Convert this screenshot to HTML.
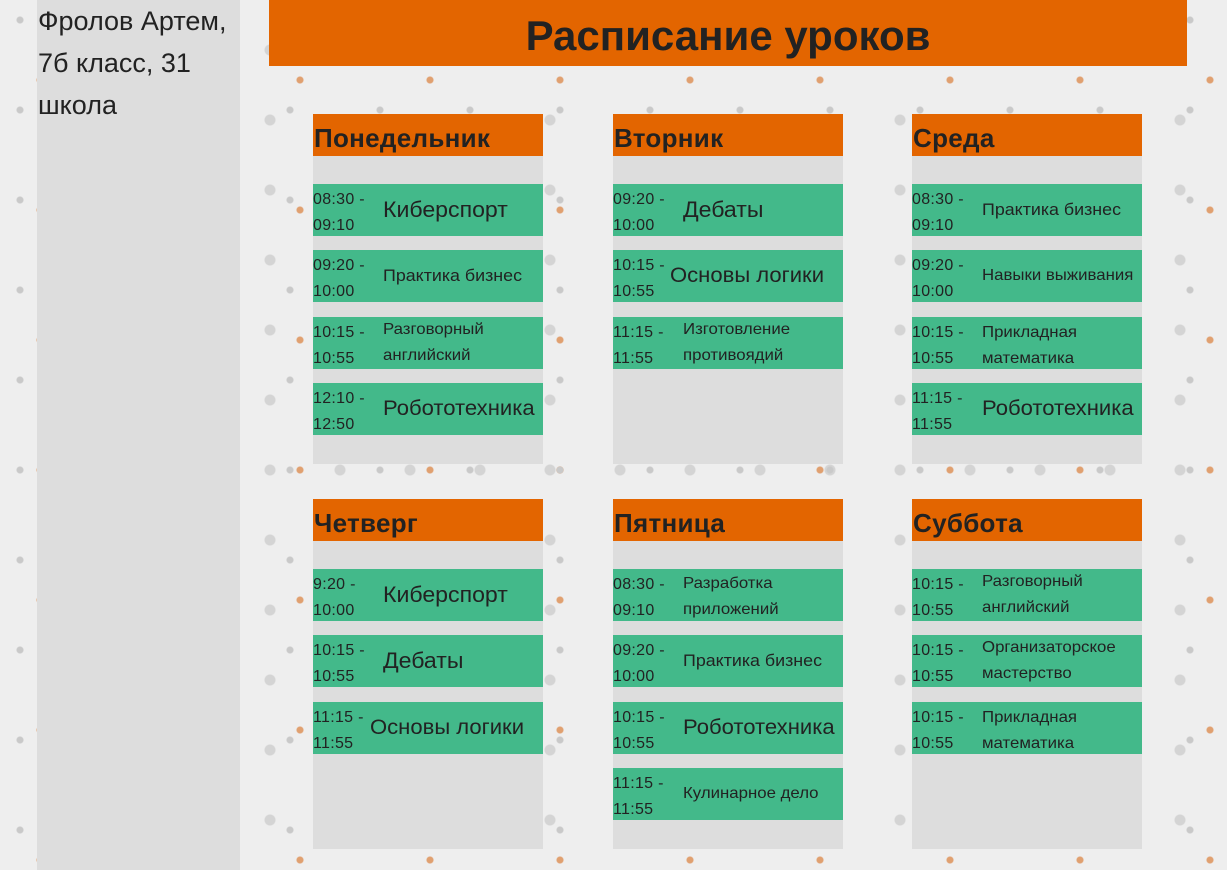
<!DOCTYPE html>
<html><head><meta charset="utf-8"><style>
*{margin:0;padding:0;box-sizing:border-box}
body{width:1227px;height:870px;overflow:hidden;position:relative;font-family:"Liberation Sans","DejaVu Sans",sans-serif;color:#222;
background:#eeeeee;
background-image:radial-gradient(circle at 20px 20px,#c9c9c9 3px,transparent 4px),radial-gradient(circle at 60px 50px,#d4d4d4 5px,transparent 6px),radial-gradient(circle at 40px 80px,#e0a070 3px,transparent 4px);
background-size:90px 90px,70px 70px,130px 130px;}
.side{position:absolute;left:37px;top:0;width:203px;height:870px;background:#dddddd;font-size:27px;line-height:42px;padding:0 0 0 1px;color:#222;white-space:nowrap}
.title{position:absolute;left:269px;top:0;width:918px;height:66px;background:#e36500;text-align:center;font-weight:bold;font-size:42px;line-height:72px;color:#222}
.card{position:absolute;width:230px;height:350px;background:#dddddd}
.hd{height:42px;background:#e36500;font-weight:bold;font-size:26px;line-height:48px;padding-left:1px;letter-spacing:0.3px}
.row{position:absolute;left:0;width:230px;height:52px;background:#43b98a}
.t{position:absolute;left:0;top:3px;font-size:16px;line-height:26px;letter-spacing:0.3px}
.s{position:absolute;top:0;height:52px;display:flex;align-items:center;line-height:26px;white-space:nowrap;transform:scaleX(1.05);transform-origin:left center}
</style></head><body>
<div class="side">Фролов Артем,<br>7б класс, 31<br>школа</div>
<div class="title">Расписание уроков</div>

<div class="card" style="left:313px;top:114px">
<div class="hd">Понедельник</div>
<div class="row" style="top:70px"><div class="t">08:30 -<br>09:10</div><div class="s" style="left:70px;font-size:22px">Киберспорт</div></div>
<div class="row" style="top:136px"><div class="t">09:20 -<br>10:00</div><div class="s" style="left:70px;font-size:17px">Практика бизнес</div></div>
<div class="row" style="top:203px"><div class="t">10:15 -<br>10:55</div><div class="s" style="left:70px;font-size:16px">Разговорный<br>английский</div></div>
<div class="row" style="top:269px"><div class="t">12:10 -<br>12:50</div><div class="s" style="left:70px;font-size:21px">Робототехника</div></div>
</div>

<div class="card" style="left:613px;top:114px">
<div class="hd">Вторник</div>
<div class="row" style="top:70px"><div class="t">09:20 -<br>10:00</div><div class="s" style="left:70px;font-size:22px">Дебаты</div></div>
<div class="row" style="top:136px"><div class="t">10:15 -<br>10:55</div><div class="s" style="left:57px;font-size:21px">Основы логики</div></div>
<div class="row" style="top:203px"><div class="t">11:15 -<br>11:55</div><div class="s" style="left:70px;font-size:16px">Изготовление<br>противоядий</div></div>
</div>

<div class="card" style="left:912px;top:114px">
<div class="hd">Среда</div>
<div class="row" style="top:70px"><div class="t">08:30 -<br>09:10</div><div class="s" style="left:70px;font-size:17px">Практика бизнес</div></div>
<div class="row" style="top:136px"><div class="t">09:20 -<br>10:00</div><div class="s" style="left:70px;font-size:16px">Навыки выживания</div></div>
<div class="row" style="top:203px"><div class="t">10:15 -<br>10:55</div><div class="s" style="left:70px;font-size:16px;padding-top:6px">Прикладная<br>математика</div></div>
<div class="row" style="top:269px"><div class="t">11:15 -<br>11:55</div><div class="s" style="left:70px;font-size:21px">Робототехника</div></div>
</div>

<div class="card" style="left:313px;top:499px">
<div class="hd">Четверг</div>
<div class="row" style="top:70px"><div class="t">9:20 -<br>10:00</div><div class="s" style="left:70px;font-size:22px">Киберспорт</div></div>
<div class="row" style="top:136px"><div class="t">10:15 -<br>10:55</div><div class="s" style="left:70px;font-size:22px">Дебаты</div></div>
<div class="row" style="top:203px"><div class="t">11:15 -<br>11:55</div><div class="s" style="left:57px;font-size:21px">Основы логики</div></div>
</div>

<div class="card" style="left:613px;top:499px">
<div class="hd">Пятница</div>
<div class="row" style="top:70px"><div class="t">08:30 -<br>09:10</div><div class="s" style="left:70px;font-size:16px;padding-top:4px">Разработка<br>приложений</div></div>
<div class="row" style="top:136px"><div class="t">09:20 -<br>10:00</div><div class="s" style="left:70px;font-size:17px">Практика бизнес</div></div>
<div class="row" style="top:203px"><div class="t">10:15 -<br>10:55</div><div class="s" style="left:70px;font-size:21px">Робототехника</div></div>
<div class="row" style="top:269px"><div class="t">11:15 -<br>11:55</div><div class="s" style="left:70px;font-size:16px">Кулинарное дело</div></div>
</div>

<div class="card" style="left:912px;top:499px">
<div class="hd">Суббота</div>
<div class="row" style="top:70px"><div class="t">10:15 -<br>10:55</div><div class="s" style="left:70px;font-size:16px">Разговорный<br>английский</div></div>
<div class="row" style="top:136px"><div class="t">10:15 -<br>10:55</div><div class="s" style="left:70px;font-size:16px">Организаторское<br>мастерство</div></div>
<div class="row" style="top:203px"><div class="t">10:15 -<br>10:55</div><div class="s" style="left:70px;font-size:16px;padding-top:6px">Прикладная<br>математика</div></div>
</div>
</body></html>
